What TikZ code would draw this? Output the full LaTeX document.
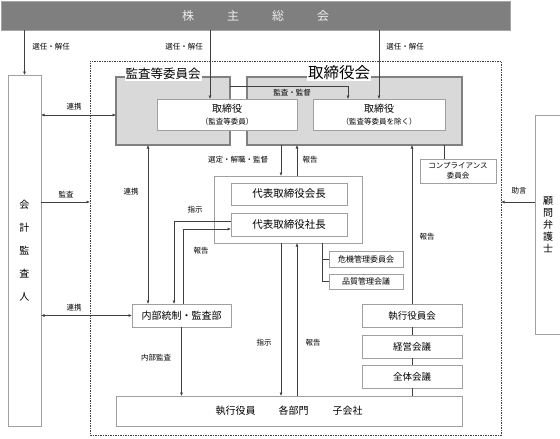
\documentclass[tikz,border=0pt]{standalone}
\usepackage{fontspec}
\setmainfont{Noto Sans CJK JP}
\usetikzlibrary{arrows.meta,calc}
\definecolor{barfill}{HTML}{7F7F7F}
\definecolor{barline}{HTML}{A6A6A6}
\definecolor{bartext}{HTML}{EDEDED}
\definecolor{grayfill}{HTML}{D9D9D9}
\definecolor{grayline}{HTML}{808080}
\definecolor{boxline}{HTML}{A0A0A0}
\definecolor{ln}{HTML}{404040}
\begin{document}
\begin{tikzpicture}[x=1pt,y=-1pt,
  every node/.style={inner sep=0pt,outer sep=0pt},
  wbox/.style={draw=boxline,line width=0.8pt,fill=white,anchor=north west,align=center},
  gbox/.style={draw=grayline,line width=1.5pt,fill=grayfill,anchor=north west},
  lbl/.style={font=\fontsize{7.5}{9}\selectfont},
  arr/.style={draw=ln,line width=0.6pt,-{Latex[length=3.5pt,width=3pt]}},
  darr/.style={draw=ln,line width=0.6pt,{Latex[length=3.5pt,width=3pt]}-{Latex[length=3.5pt,width=3pt]}},
  plain/.style={draw=ln,line width=0.6pt}]
\useasboundingbox (0,0) rectangle (560,439);

% helper coordinates
\coordinate (x148) at (148,0);
\coordinate (x174) at (174,0);
\coordinate (x183) at (183,0);
\coordinate (x210) at (210,0);
\coordinate (x281) at (281,0);
\coordinate (x297) at (297,0);
\coordinate (x322) at (322,0);
\coordinate (x348) at (348,0);
\coordinate (x379) at (379,0);
\coordinate (x444) at (444,0);
\coordinate (y86) at (0,86);
\coordinate (y115) at (0,115);
\coordinate (y202) at (0,202);
\coordinate (y221) at (0,221);
\coordinate (y229) at (0,229);

% frame
\node[draw=ln,dash pattern=on 1.5pt off 1pt,line width=0.6pt,anchor=north west,
      minimum width=411pt,minimum height=374pt] (frame) at (90,61) {};

% top bar
\node[anchor=north west,fill=barfill,draw=barline,line width=0.8pt,
      minimum width=509pt,minimum height=29pt,text=bartext,
      font=\fontsize{12}{12}\selectfont] (bar) at (1,1)
      {株\hspace{33pt}主\hspace{33pt}総\hspace{33pt}会};

% auditor
\node[wbox,minimum width=33pt,minimum height=351pt,font=\fontsize{10}{23}\selectfont]
      (kaikei) at (8,75) {会\\計\\監\\査\\人};

% counsel
\node[wbox,minimum width=26pt,minimum height=219pt,font=\fontsize{10}{12}\selectfont]
      (komon) at (535,115) {顧\\問\\弁\\護\\士};

% gray boards
\node[gbox,minimum width=114pt,minimum height=68pt] (kansa) at (116,77) {};
\node[gbox,minimum width=215pt,minimum height=68pt] (tbk) at (247,77) {};
\node[fill=white,inner sep=1pt,font=\fontsize{12.5}{13}\selectfont] (kansalbl) at (163,74) {監査等委員会};
\node[fill=white,inner sep=1pt,font=\fontsize{15.5}{16}\selectfont] (tbklbl) at (339,73) {取締役会};

% directors
\node[wbox,minimum width=140pt,minimum height=31pt,font=\fontsize{10}{12}\selectfont]
      (tk1) at (157,99) {取締役\\{\fontsize{7.5}{9}\selectfont （監査等委員）}};
\node[wbox,minimum width=132pt,minimum height=31pt,font=\fontsize{10}{12}\selectfont]
      (tk2) at (313,99) {取締役\\{\fontsize{7.5}{9}\selectfont （監査等委員を除く）}};

% representatives
\node[wbox,minimum width=148pt,minimum height=67pt] (daihyo) at (214,176) {};
\node[wbox,minimum width=116pt,minimum height=22pt,font=\fontsize{10.5}{12}\selectfont]
      (kaichou) at (231,183) {代表取締役会長};
\node[wbox,minimum width=116pt,minimum height=23pt,font=\fontsize{10.5}{12}\selectfont]
      (shachou) at (231,213) {代表取締役社長};

% committees
\node[wbox,minimum width=74pt,minimum height=16pt,font=\fontsize{8}{9}\selectfont]
      (kiki) at (329,251) {危機管理委員会};
\node[wbox,minimum width=74pt,minimum height=15pt,font=\fontsize{8}{9}\selectfont]
      (hinshitsu) at (329,274) {品質管理会議};
\node[wbox,minimum width=76pt,minimum height=24pt,font=\fontsize{7.5}{10}\selectfont]
      (comp) at (420,159) {コンプライアンス\\委員会};

% internal control
\node[wbox,minimum width=99pt,minimum height=23pt,font=\fontsize{10}{12}\selectfont]
      (naibu) at (132,304) {内部統制・監査部};

% executive column
\node[wbox,minimum width=100pt,minimum height=23pt,font=\fontsize{9.5}{11}\selectfont]
      (yakuin) at (362,304) {執行役員会};
\node[wbox,minimum width=100pt,minimum height=23pt,font=\fontsize{9.5}{11}\selectfont]
      (keiei) at (362,335) {経営会議};
\node[wbox,minimum width=100pt,minimum height=23pt,font=\fontsize{9.5}{11}\selectfont]
      (zentai) at (362,365) {全体会議};
\node[wbox,minimum width=346pt,minimum height=30pt,font=\fontsize{10}{12}\selectfont]
      (exec) at (116,396) {執行役員\hspace{23pt}各部門\hspace{24pt}子会社};

% shareholder arrows
\draw[arr] (bar.south -| kaikei.north) -- (kaikei.north);
\draw[arr] (bar.south -| x210) -- (tk1.north -| x210);
\draw[arr] (bar.south -| x379) -- (tk2.north -| x379);
\node[lbl] (s1) at (51,47) {選任・解任};
\node[lbl] (s2) at (184,47) {選任・解任};
\node[lbl] (s3) at (405,47) {選任・解任};

% audit committee -> directors
\draw[arr] (kansa.east |- y86) -| (tk2.north -| x348);
\node[lbl] (l_kk) at (292,93) {監査・監督};

% auditor links
\draw[darr] (kaikei.east |- y115) -- (kansa.west |- y115);
\node[lbl] (l_r1) at (74,107) {連携};
\draw[arr] (kaikei.east |- y202) -- (frame.west |- y202);
\node[lbl] (l_ka) at (66,195) {監査};
\draw[darr] (kaikei.east |- naibu.west) -- (naibu.west);
\node[lbl] (l_r2) at (74,308) {連携};
\draw[darr] (kansa.south -| x148) -- (naibu.north -| x148);
\node[lbl] (l_r3) at (131,192) {連携};

% board <-> representatives
\draw[arr] (tbk.south -| x281) -- (daihyo.north -| x281);
\draw[arr] (daihyo.north -| x297) -- (tbk.south -| x297);
\node[lbl] (l_sk) at (238,160) {選定・解職・監督};
\node[lbl] (l_h1) at (310,160) {報告};

% president <-> internal control
\draw[arr] (shachou.west |- y221) -| (naibu.north -| x174);
\draw[arr] (naibu.north -| x183) |- (shachou.west |- y229);
\node[lbl] (l_s1) at (195,210) {指示};
\node[lbl] (l_h2) at (201,251) {報告};

% committees branch
\draw[plain] (daihyo.south -| x322) |- (kiki.west);
\draw[plain] (daihyo.south -| x322) |- (hinshitsu.west);
\draw[plain] (tbk.south -| x444) -- (comp.north -| x444);

% to executives
\draw[arr] (naibu.south) -- (exec.north -| naibu.south);
\node[lbl] (l_na) at (156,358) {内部監査};
\draw[arr] (daihyo.south -| x281) -- (exec.north -| x281);
\draw[arr] (exec.north -| x297) -- (daihyo.south -| x297);
\node[lbl] (l_s2) at (264,343) {指示};
\node[lbl] (l_h3) at (313,343) {報告};

% executive column
\draw[plain] (yakuin.south) -- (keiei.north);
\draw[plain] (keiei.south) -- (zentai.north);
\draw[plain] (zentai.south) -- (exec.north -| zentai.south);
\draw[arr] (yakuin.north) -- (tbk.south -| yakuin.north);
\node[lbl] (l_h4) at (427,237) {報告};

% counsel
\draw[arr] (komon.west |- y202) -- (frame.east |- y202);
\node[lbl] (l_jo) at (519,191) {助言};
\end{tikzpicture}
\end{document}
